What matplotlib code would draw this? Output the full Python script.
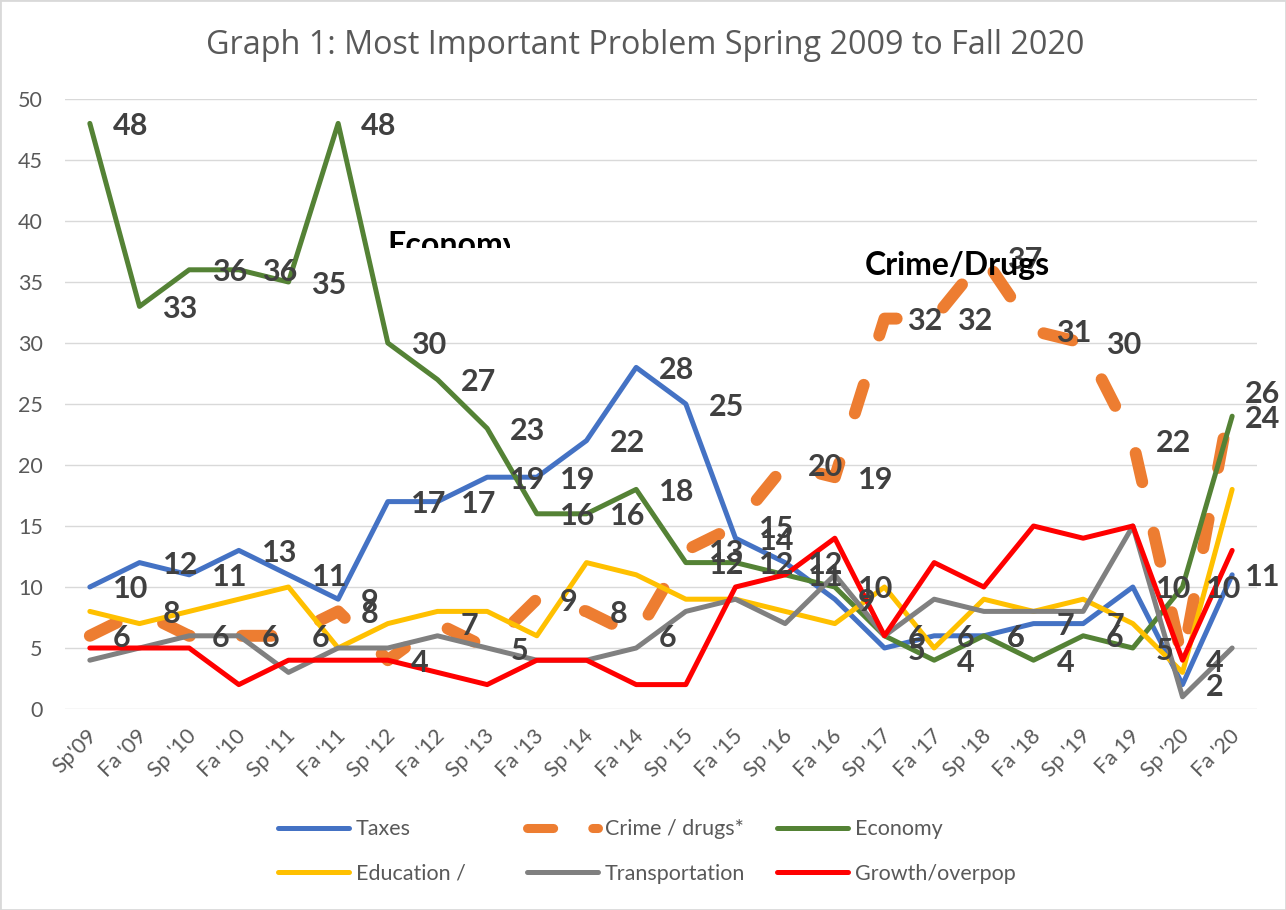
import matplotlib
matplotlib.use("Agg")
import matplotlib.pyplot as plt
from matplotlib.lines import Line2D
from matplotlib.patches import Rectangle
from matplotlib.transforms import Bbox, ScaledTranslation

plt.rcParams["font.family"] = ["Lato", "DejaVu Sans"]

# survey periods (x axis)
periods = ["Sp'09", "Fa '09", "Sp '10", "Fa '10", "Sp '11", "Fa '11", "Sp '12", "Fa '12",
           "Sp '13", "Fa '13", "Sp '14", "Fa '14", "Sp '15", "Fa '15", "Sp '16", "Fa '16",
           "Sp '17", "Fa '17", "Sp '18", "Fa '18", "Sp '19", "Fa 19", "Sp '20", "Fa '20"]

# percent naming each problem as most important
taxes = [10, 12, 11, 13, 11, 9, 17, 17, 19, 19, 22, 28, 25, 14, 12, 9, 5, 6, 6, 7, 7, 10, 2, 11]
crime = [6, 8, 6, 6, 6, 8, 4, 7, 5, 9, 8, 6, 13, 15, 20, 19, 32, 32, 37, 31, 30, 22, 4, 26]
economy = [48, 33, 36, 36, 35, 48, 30, 27, 23, 16, 16, 18, 12, 12, 11, 10, 6, 4, 6, 4, 6, 5, 10, 24]
education = [8, 7, 8, 9, 10, 5, 7, 8, 8, 6, 12, 11, 9, 9, 8, 7, 10, 5, 9, 8, 9, 7, 3, 18]
transport = [4, 5, 6, 6, 3, 5, 5, 6, 5, 4, 4, 5, 8, 9, 7, 11, 6, 9, 8, 8, 8, 15, 1, 5]
growth = [5, 5, 5, 2, 4, 4, 4, 3, 2, 4, 4, 2, 2, 10, 11, 14, 6, 12, 10, 15, 14, 15, 4, 13]

W, H = 1286, 910
fig = plt.figure(figsize=(W / 100, H / 100), dpi=100)
ax = fig.add_axes([65 / W, (H - 709) / H, 1192 / W, 610 / H])

x = list(range(len(periods)))
solid = dict(solid_capstyle="round", solid_joinstyle="round", lw=3.6)

l_tax, = ax.plot(x, taxes, color="#4472C4", zorder=3, label="Taxes", **solid)
l_crime, = ax.plot(x, crime, color="#ED7D31", lw=8.6, zorder=4, label="Crime / drugs*",
                   dash_capstyle="round", dash_joinstyle="round")
l_crime.set_dashes((2.5, 4.33))
l_eco, = ax.plot(x, economy, color="#548235", zorder=5, label="Economy", **solid)
l_edu, = ax.plot(x, education, color="#FFC000", zorder=6, label="Education /", **solid)
l_tr, = ax.plot(x, transport, color="#808080", zorder=7, label="Transportation", **solid)
l_gr, = ax.plot(x, growth, color="#FF0000", zorder=8, label="Growth/overpop", **solid)

# data labels (only taxes, crime and economy carry them)
for series in (taxes, crime, economy):
    for i, v in enumerate(series):
        off = 13 if i == len(series) - 1 else 23
        ax.annotate(str(v), (i, v), xytext=(off, 0), textcoords="offset pixels",
                    ha="left", va="center_baseline", fontsize=22, fontweight="bold",
                    color="#404040", zorder=10, annotation_clip=False)

ax.set_xlim(-0.5, len(periods) - 0.5)
ax.set_ylim(0, 50)
ax.set_yticks(range(0, 51, 5))
ax.grid(axis="y", color="#d9d9d9", lw=1.0)
ax.set_axisbelow(True)
for s in ax.spines.values():
    s.set_visible(False)
ax.tick_params(axis="y", length=0, pad=16, labelsize=15.5, labelcolor="#595959")
ax.set_xticks(x)
ax.set_xticklabels(periods, rotation=45, ha="right", va="center", rotation_mode="anchor")
ax.tick_params(axis="x", length=0, pad=17, labelsize=15.5, labelcolor="#595959")
shift = ScaledTranslation(4 / 100, 0, fig.dpi_scale_trans)
for lab in ax.get_xticklabels():
    lab.set_transform(lab.get_transform() + shift)

fig.text(645 / W, 1 - 45 / H, "Graph 1: Most Important Problem Spring 2009 to Fall 2020",
         ha="center", va="center", fontsize=23.3, color="#595959", family="Open Sans")

fig.text(865 / W, 1 - 275 / H, "Crime/Drugs", fontsize=23, fontweight="bold", color="black")
eco_txt = fig.text(387 / W, 1 - 255 / H, "Economy", fontsize=23, fontweight="bold", color="black")
eco_txt.set_clip_box(Bbox.from_extents(380, H - 248, 510, H - 220))
eco_txt.set_clip_on(True)

# legend, Excel style: three equal-width columns
crime_handle = Line2D([], [], color="#ED7D31", lw=6.5, dash_capstyle="round")
crime_handle.set_dashes((2.9, 4.33))
cols = [([l_tax, l_edu], ["Taxes", "Education /"], 278),
        ([crime_handle, l_tr], ["Crime / drugs*", "Transportation"], 527),
        ([l_eco, l_gr], ["Economy", "Growth/overpop"], 777)]
for handles, labels, xl in cols:
    leg = fig.legend(handles, labels, loc="center left", bbox_to_anchor=(xl / W, 1 - 851.5 / H),
                     frameon=False, fontsize=15.5, handlelength=3.3, handletextpad=0.32,
                     borderpad=0, borderaxespad=0, labelspacing=1.15)
    for t in leg.get_texts():
        t.set_color("#595959")

fig.patches.append(Rectangle((0, 0), 1, 1, transform=fig.transFigure, fill=False,
                             edgecolor="#d9d9d9", lw=2))

fig.savefig("out.png", dpi=100)
